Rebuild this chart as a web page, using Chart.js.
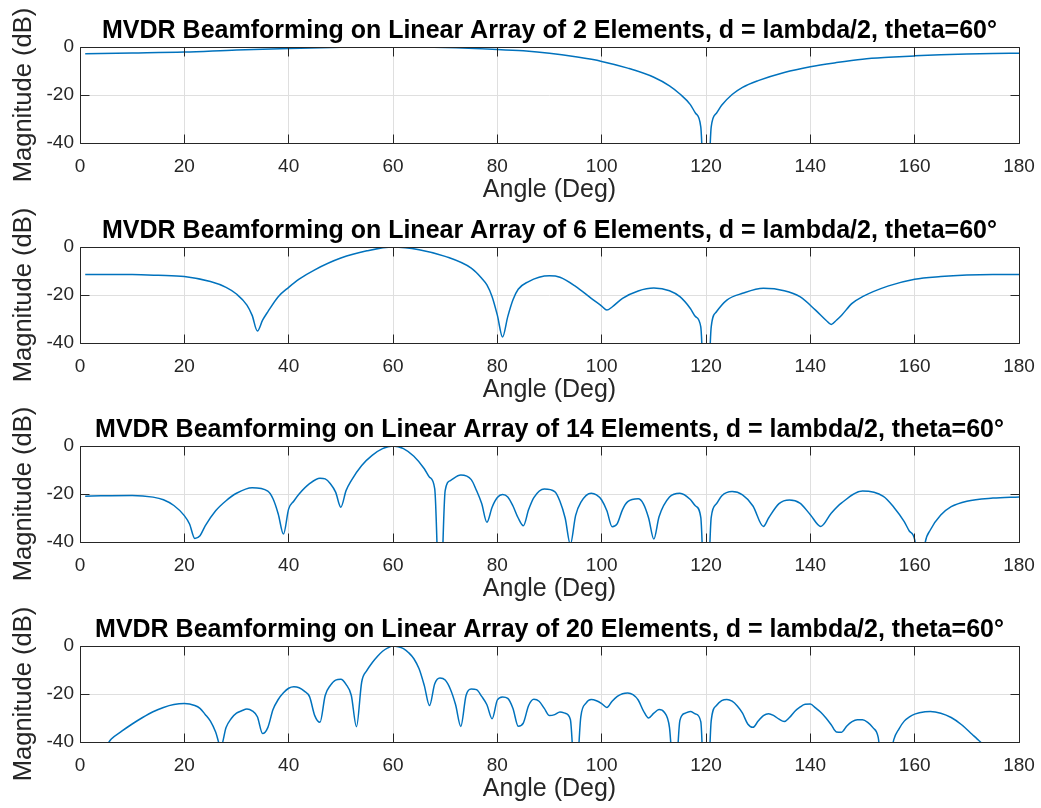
<!DOCTYPE html>
<html>
<head>
<meta charset="utf-8">
<script src="https://cdn.jsdelivr.net/npm/chart.js@4.4.1/dist/chart.umd.min.js"></script>
<style>
  html, body { margin: 0; padding: 0; background: #fff; }
  #wrap { position: relative; width: 1041px; height: 808px; overflow: hidden; }
  #wrap canvas { position: absolute; left: 0; }
</style>
</head>
<body>
<div id="wrap"></div>
<script>
// number of array elements shown in each subplot
const elementCounts = [2, 6, 14, 20];

// tick labels
const xTicks = [0, 20, 40, 60, 80, 100, 120, 140, 160, 180];
const yTicks = [-40, -20, 0];

// 2 elements
const ang2 = [1, 10, 20, 30, 40, 50, 60, 70, 80, 85, 90, 95, 100, 105, 110, 113, 115, 117, 118, 119, 120, 121, 122, 123, 125, 127, 130, 135, 140, 145, 150, 155, 160, 165, 170, 175, 180];
const mag2 = [-2.8, -2.5, -2.1, -1.2, -0.6, -0.1, 0, -0.2, -1.0, -1.6, -2.6, -4.1, -6.0, -8.8, -12.6, -16.2, -19.6, -24.0, -27.6, -33.3, -80, -33.3, -27.6, -24.3, -19.8, -16.8, -14.0, -10.6, -8.2, -6.5, -5.1, -4.3, -3.7, -3.2, -2.9, -2.7, -2.6];

// 6 elements
const ang6 = [1, 10, 15, 20, 25, 28, 30, 32, 33, 34, 35, 36, 38, 40, 42, 45, 50, 55, 60, 65, 70, 75, 77, 78, 79, 80, 81, 82, 83, 84, 86, 88, 90, 92, 95, 98, 100, 101, 102, 104, 107, 110, 113, 115, 117, 118, 119, 120, 121, 122, 124, 127, 131, 135, 138, 141, 143, 144, 145, 146, 148, 150, 155, 160, 165, 170, 175, 180];
const mag6 = [-11.5, -11.5, -11.8, -12.3, -14.4, -16.8, -19.6, -24.2, -28.5, -35.0, -30.5, -27.0, -20.7, -16.8, -13.4, -9.5, -4.6, -1.6, 0, -1.1, -3.9, -8.8, -13.0, -15.8, -20.7, -28.4, -37.5, -29.0, -22.0, -17.6, -14.4, -12.6, -12.0, -12.6, -16.4, -21.4, -24.6, -26.3, -25.0, -21.4, -18.3, -17.1, -18.2, -20.7, -25.6, -29.0, -33.3, -80, -33.3, -27.0, -22.1, -19.3, -17.2, -18.2, -20.7, -26.3, -30.5, -32.3, -30.5, -28.4, -23.5, -20.7, -16.2, -13.4, -12.3, -11.7, -11.5, -11.5];

// 14 elements
const ang14 = [1, 10, 14, 16, 18, 20, 21, 22, 23, 24, 26, 28, 30, 33, 36, 37, 38, 39, 40, 41, 42, 44, 46, 47, 48, 49, 50, 51, 52, 54, 56, 58, 60, 62, 64, 66, 67, 68, 69, 70, 71, 73, 75, 76, 77, 78, 79, 80, 81, 82, 83, 84, 85, 86, 87, 89, 91, 92, 93, 94, 95, 96, 98, 99, 100, 101, 102, 103, 104, 105, 107, 108, 109, 110, 111, 113, 115, 117, 118, 119, 120, 121, 122, 123, 125, 127, 129, 131, 132, 134, 136, 138, 140, 142, 144, 146, 150, 154, 156, 158, 159, 160, 161, 162, 163, 165, 167, 170, 175, 180];
const mag14 = [-20.9, -20.6, -21.3, -22.4, -24.8, -29.0, -32.5, -38.5, -37.4, -33.3, -27.0, -22.8, -19.7, -17.4, -18.8, -22.0, -28.3, -36.7, -26.2, -22.9, -20.0, -15.7, -13.4, -13.7, -15.7, -19.2, -25.5, -18.6, -14.4, -8.1, -3.9, -1.1, 0, -1.1, -4.3, -9.5, -13.0, -17.9, -70, -18.6, -14.4, -12.1, -14.0, -18.5, -24.0, -31.8, -25.5, -21.5, -20.2, -21.2, -25.0, -30.0, -33.2, -26.5, -21.5, -17.9, -19.0, -23.0, -30.0, -41.0, -29.0, -23.5, -19.7, -20.4, -22.5, -27.0, -33.6, -32.3, -26.5, -23.2, -22.0, -24.1, -30.0, -38.8, -29.5, -21.3, -19.7, -22.3, -25.0, -29.7, -80, -29.7, -24.1, -20.8, -19.0, -20.4, -25.0, -33.5, -30.0, -24.0, -22.5, -23.8, -28.6, -33.5, -28.0, -23.7, -18.8, -21.0, -25.5, -31.5, -35.5, -39.0, -60, -40.5, -35.0, -28.8, -25.3, -23.0, -21.7, -21.2];

// 20 elements
const ang20 = [1, 3, 4, 5, 6, 8, 10, 12, 14, 16, 18, 20, 22, 23, 24, 25, 26, 27, 28, 29, 30, 31, 32, 33, 34, 35, 36, 37, 38, 39, 40, 41, 42, 43, 44, 45, 46, 47, 48, 49, 50, 51, 52, 53, 54, 55, 56, 57, 58, 59, 60, 61, 62, 63, 64, 65, 66, 67, 68, 69, 70, 71, 72, 73, 74, 75, 76, 77, 78, 79, 80, 81, 82, 83, 84, 85, 86, 87, 88, 89, 90, 91, 92, 93, 94, 95, 96, 97, 98, 99, 100, 101, 102, 103, 104, 105, 106, 107, 108, 109, 110, 111, 112, 113, 114, 115, 116, 117, 118, 119, 120, 121, 122, 123, 124, 125, 126, 127, 128, 129, 130, 131, 132, 133, 134, 135, 136, 137, 138, 139, 140, 141, 142, 143, 144, 145, 146, 147, 148, 149, 150, 151, 152, 153, 154, 155, 156, 157, 158, 159, 160, 162, 163, 165, 167, 169, 171, 172, 173, 175, 178, 180];
const mag20 = [-75, -55, -47, -42, -38.8, -35.5, -32.5, -29.8, -27.4, -25.6, -24.4, -24.0, -24.8, -26.0, -28.5, -31.3, -35.8, -42, -34.0, -30.2, -28.0, -27.0, -26.3, -27.0, -29.5, -36.5, -34.0, -26.5, -22.3, -19.5, -17.6, -17.0, -17.4, -18.8, -21.1, -29.0, -31.8, -20.6, -16.4, -14.2, -13.9, -16.0, -20.5, -33.6, -15.0, -10.2, -7.0, -4.4, -2.2, -0.8, 0, -0.3, -1.1, -2.8, -5.3, -9.5, -16.5, -24.8, -15.7, -13.3, -14.2, -18.0, -24.5, -33.5, -20.6, -17.9, -18.2, -21.0, -24.5, -30.3, -22.5, -21.2, -21.8, -26.0, -33.4, -32.0, -24.8, -22.2, -23.0, -26.0, -29.0, -28.6, -27.5, -28.0, -30.6, -60, -29.5, -23.8, -22.3, -22.8, -24.0, -25.6, -23.0, -21.0, -19.9, -19.6, -20.3, -22.5, -27.0, -30.0, -28.0, -26.5, -27.6, -34.0, -60, -31.0, -28.0, -27.3, -28.3, -31.5, -80, -31.1, -24.8, -22.8, -22.3, -23.0, -25.0, -28.0, -32.5, -33.9, -31.3, -29.0, -28.2, -29.0, -30.5, -31.5, -29.8, -27.3, -25.5, -24.3, -24.2, -25.8, -27.6, -30.0, -32.8, -35.8, -35.9, -33.3, -31.5, -30.7, -30.7, -31.8, -34.0, -38.0, -55, -50, -39.0, -34.5, -31.3, -29.5, -28.4, -27.4, -27.3, -28.0, -29.8, -32.8, -36.8, -38.8, -41, -50, -60, -70];

const angleSets = [ang2, ang6, ang14, ang20];
const magSets = [mag2, mag6, mag14, mag20];

// layout (pixels)
const plotTops = [47, 247, 446, 646];
const plotHeight = 96;
const xAxisH = 62;
const canvasH = 210;
const inkColor = '#262626';
const fontFamily = '"Liberation Sans", Arial, Helvetica, sans-serif';

// box, inside tick marks and title, drawn like a MATLAB axes
const axesFrame = {
    id: 'axesFrame',
    afterDatasetsDraw(chart, args, opts) {
        const { ctx, chartArea: a, scales: { x, y } } = chart;
        const snap = v => Math.round(v - 0.5) + 0.5;
        const L = snap(a.left), R = snap(a.right), T = snap(a.top), B = snap(a.bottom);
        const tl = 9;
        ctx.save();
        ctx.strokeStyle = inkColor;
        ctx.lineWidth = 1;
        ctx.beginPath();
        ctx.rect(L, T, R - L, B - T);
        xTicks.forEach(v => {
            const px = snap(x.getPixelForValue(v));
            ctx.moveTo(px, B); ctx.lineTo(px, B - tl);
            ctx.moveTo(px, T); ctx.lineTo(px, T + tl);
        });
        yTicks.forEach(v => {
            const py = snap(y.getPixelForValue(v));
            ctx.moveTo(L, py); ctx.lineTo(L + tl, py);
            ctx.moveTo(R, py); ctx.lineTo(R - tl, py);
        });
        ctx.stroke();

        ctx.fillStyle = '#000';
        ctx.font = 'bold 25px ' + fontFamily;
        ctx.textAlign = 'center';
        ctx.textBaseline = 'middle';
        ctx.fillText(opts.text, (a.left + a.right) / 2, a.top - 16);
        ctx.restore();
    }
};

const wrap = document.getElementById('wrap');

elementCounts.forEach((n, i) => {
    const canvas = document.createElement('canvas');
    canvas.width = 1041;
    canvas.height = canvasH;
    canvas.style.top = (plotTops[i] - 47) + 'px';
    wrap.appendChild(canvas);

    const points = angleSets[i].map((a, k) => ({ x: a, y: magSets[i][k] }));

    new Chart(canvas.getContext('2d'), {
        type: 'line',
        data: {
            datasets: [{
                data: points,
                borderColor: '#0072BD',
                borderWidth: 1.5,
                pointRadius: 0,
                cubicInterpolationMode: 'monotone',
                clip: 0
            }]
        },
        options: {
            responsive: false,
            animation: false,
            devicePixelRatio: 1,
            layout: {
                padding: { top: 47, left: 0, right: 22, bottom: canvasH - 47 - plotHeight - xAxisH }
            },
            plugins: {
                legend: { display: false },
                tooltip: { enabled: false },
                axesFrame: { text: `MVDR Beamforming on Linear Array of ${n} Elements, d = lambda/2, theta=60°` }
            },
            scales: {
                x: {
                    type: 'linear',
                    min: 0,
                    max: 180,
                    afterFit: s => { s.height = xAxisH; },
                    afterBuildTicks: s => { s.ticks = xTicks.map(v => ({ value: v })); },
                    ticks: {
                        padding: 4,
                        maxRotation: 0,
                        color: inkColor,
                        font: { family: fontFamily, size: 19, lineHeight: 2.03 }
                    },
                    grid: { color: '#dfdfdf', lineWidth: 1, drawTicks: false },
                    border: { display: false },
                    title: {
                        display: true,
                        text: 'Angle (Deg)',
                        color: inkColor,
                        font: { family: fontFamily, size: 25 },
                        padding: { top: 0, bottom: 0 }
                    }
                },
                y: {
                    min: -40,
                    max: 0,
                    afterFit: s => { s.width = 80; },
                    afterBuildTicks: s => { s.ticks = yTicks.map(v => ({ value: v })); },
                    ticks: {
                        padding: 6,
                        color: inkColor,
                        font: { family: fontFamily, size: 19 }
                    },
                    grid: { color: '#dfdfdf', lineWidth: 1, drawTicks: false },
                    border: { display: false },
                    title: {
                        display: true,
                        text: 'Magnitude (dB)',
                        color: inkColor,
                        font: { family: fontFamily, size: 25.5 },
                        padding: { top: 9, bottom: 0 }
                    }
                }
            }
        },
        plugins: [axesFrame]
    });
});
</script>
</body>
</html>
